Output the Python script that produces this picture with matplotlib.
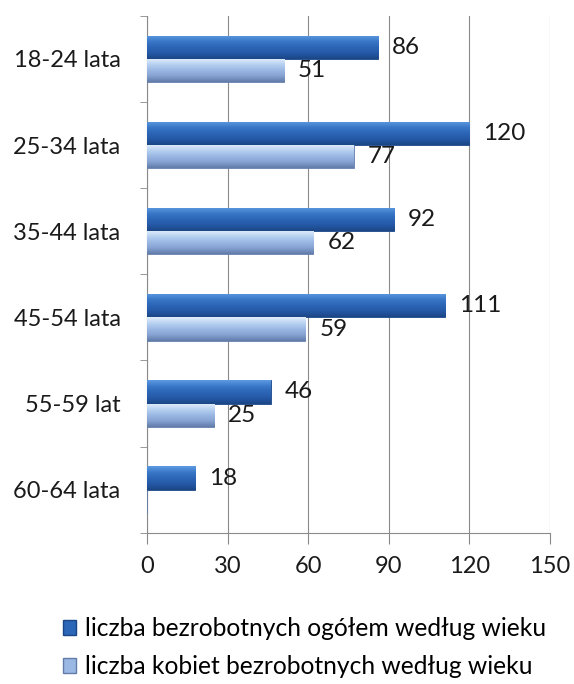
import numpy as np
import matplotlib
matplotlib.use("Agg")
import matplotlib.pyplot as plt
from matplotlib.colors import LinearSegmentedColormap

plt.rcParams["font.family"] = ["Lato", "DejaVu Sans"]

categories = ["18-24 lata", "25-34 lata", "35-44 lata", "45-54 lata", "55-59 lat", "60-64 lata"]
total = [86, 120, 92, 111, 46, 18]
women = [51, 77, 62, 59, 25, None]
series_names = ["liczba bezrobotnych ogółem według wieku",
                "liczba kobiet bezrobotnych według wieku"]

# colour stops listed from the top edge of a bar to its bottom edge
dark_cmap = LinearSegmentedColormap.from_list(
    "dark", ["#5d9ae2", "#3b78c8", "#2c66b6", "#2559a6", "#1b4686"])
light_cmap = LinearSegmentedColormap.from_list(
    "light", ["#e2effc", "#b9d2f2", "#9bb8e4", "#86a2d2", "#627caa"])

fig = plt.figure(figsize=(5.74, 6.84), dpi=100)
ax = fig.add_axes([0.256, 0.221, 0.702, 0.756])

n = len(categories)
y = np.arange(n)
h = 0.27


def shade(bars, cmap):
    # row 0 of the array goes to the bar's top edge on screen
    grad = np.linspace(0, 1, 64).reshape(-1, 1)
    for b in bars:
        if b.get_width() == 0:
            continue
        x0, y0 = b.get_x(), b.get_y()
        w, hh = b.get_width(), b.get_height()
        im = ax.imshow(grad, cmap=cmap, vmin=0, vmax=1, aspect="auto",
                       origin="upper", extent=[x0, x0 + w, y0 + hh, y0],
                       zorder=3)
        im.set_clip_path(b)


tot_bars = ax.barh(y - h / 2, total, height=h, color="#2c66b6",
                   edgecolor="#1b4686", linewidth=0.6, zorder=3)
w_vals = [v if v is not None else 0 for v in women]
wom_bars = ax.barh(y + h / 2, w_vals, height=h, color="#9bb8e4",
                   edgecolor="#627caa", linewidth=0.6, zorder=3)
shade(tot_bars, dark_cmap)
shade(wom_bars, light_cmap)

for i, v in enumerate(total):
    ax.text(v + 5.2, y[i] - h / 2, str(v), va="center", ha="left",
            fontsize=17.5, color="#1a1a1a", zorder=4)
for i, v in enumerate(women):
    if v is None:
        continue
    ax.text(v + 5.2, y[i] + h / 2, str(v), va="center", ha="left",
            fontsize=17.5, color="#1a1a1a", zorder=4)

ax.set_xlim(0, 150)
ax.set_ylim(n - 0.5, -0.5)
ax.set_xticks([0, 30, 60, 90, 120, 150])
ax.set_yticks(y)
ax.set_yticklabels(categories)
ax.set_yticks(np.arange(-0.5, n, 1), minor=True)
ax.tick_params(axis="y", which="major", length=0, pad=19, labelsize=17)
ax.tick_params(axis="y", which="minor", length=5, color="#888888")
ax.tick_params(axis="x", length=8, color="#888888", pad=9, labelsize=17)
for lab in ax.get_xticklabels() + ax.get_yticklabels():
    lab.set_color("#1a1a1a")

ax.grid(axis="x", color="#8a8a8a", linewidth=0.8, zorder=0)
ax.set_axisbelow(True)
for s in ["top", "right"]:
    ax.spines[s].set_visible(False)
for s in ["left", "bottom"]:
    ax.spines[s].set_color("#8a8a8a")
    ax.spines[s].set_linewidth(0.8)

handles = [plt.Rectangle((0, 0), 1, 1, facecolor="#2c66b6", edgecolor="#1b4686"),
           plt.Rectangle((0, 0), 1, 1, facecolor="#9bb8e4", edgecolor="#627caa")]
fig.legend(handles, series_names, loc="lower center", bbox_to_anchor=(0.53, -0.024),
           ncol=1, frameon=False, fontsize=17.7, handlelength=0.55,
           handleheight=0.55, handletextpad=0.35, labelspacing=0.62)

fig.savefig("out.png", dpi=100, facecolor="white")
